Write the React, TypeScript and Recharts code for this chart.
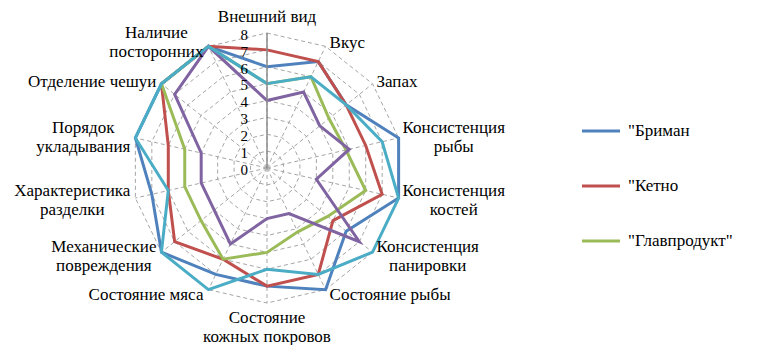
import React from 'react';
import { RadarChart, Radar, PolarGrid, PolarAngleAxis, PolarRadiusAxis, Legend } from 'recharts';

const categories = [
  'Внешний вид',
  'Вкус',
  'Запах',
  'Консистенция\nрыбы',
  'Консистенция\nкостей',
  'Консистенция\nпанировки',
  'Состояние рыбы',
  'Состояние\nкожных покровов',
  'Состояние мяса',
  'Механические\nповреждения',
  'Характеристика\nразделки',
  'Порядок\nукладывания',
  'Отделение чешуи',
  'Наличие\nпосторонних',
];

const series1Values = [6, 7, 6, 8, 8, 6, 8, 7, 7, 8, 7, 8, 8, 8];
const series2Values = [7, 7, 6, 6, 7, 5, 7, 7, 6, 7, 6, 6, 8, 8];
const series3Values = [5, 6, 4.7, 4.8, 6, 4.6, 4.2, 5, 6, 5, 5, 5, 8, 8];
const series4Values = [4, 5, 4, 5, 3, 7, 3, 3, 5, 4, 4, 4, 7, 8];
const series5Values = [5, 6, 6, 7, 8, 8, 7, 6, 8, 8, 6, 8, 8, 8];

const seriesNames = ['"Бриман', '"Кетно', '"Главпродукт"', 'Ряд4', 'Ряд5'];
const seriesColors = ['#4F81BD', '#C0504D', '#9BBB59', '#8064A2', '#4BACC6'];
const legendCount = 3;

const radiusTicks = [0, 1, 2, 3, 4, 5, 6, 7, 8];

const data = categories.map((c, i) => ({
  name: c,
  s1: series1Values[i],
  s2: series2Values[i],
  s3: series3Values[i],
  s4: series4Values[i],
  s5: series5Values[i],
}));

const W = 758;
const H = 337;
const CX = 259;
const CY = 160;
const R = 135;
const FONT = '"Liberation Serif", "Times New Roman", serif';
const LABEL_SIZE = 17;
const LINE_H = 19;

let measureCtx: CanvasRenderingContext2D | null = null;
function textWidth(s: string, font: string): number {
  if (!measureCtx) {
    const c = document.createElement('canvas');
    measureCtx = c.getContext('2d');
  }
  if (!measureCtx) return s.length * 8;
  measureCtx.font = font;
  return measureCtx.measureText(s).width;
}

function AngleTick(props: any) {
  const { payload } = props;
  const idx = categories.indexOf(payload.value);
  const ang = ((90 - (idx * 360) / categories.length) * Math.PI) / 180;
  const dx = Math.cos(ang);
  const dy = -Math.sin(ang);
  const ex = CX + R * dx;
  const ey = CY + R * dy;
  const lines = String(payload.value).split('\n');
  const n = lines.length;
  const w = Math.max(...lines.map((l) => textWidth(l, `${LABEL_SIZE}px "Liberation Serif"`)));
  let xc: number;
  let firstY: number;
  if (Math.abs(dx) < 0.05) {
    xc = ex;
    firstY = dy < 0 ? ey - 17 - (n - 1) * LINE_H : ey + 14;
  } else {
    xc = dx > 0 ? ex + 4 + w / 2 : ex - 5 - w / 2;
    const blockCenter = ey + 5 * dy;
    firstY = blockCenter - ((n - 1) * LINE_H) / 2;
  }
  return (
    <text textAnchor="middle" fontFamily={FONT} fontSize={LABEL_SIZE} fill="#000">
      {lines.map((l, i) => (
        <tspan key={i} x={xc} y={firstY + i * LINE_H} dy="0.35em">
          {l}
        </tspan>
      ))}
    </text>
  );
}

function RadiusTick(props: any) {
  const { x, y, payload } = props;
  return (
    <text x={x - 19} y={y + 1.5} dy="0.35em" textAnchor="end" fontFamily={FONT} fontSize={15} fill="#000">
      {payload.value}
    </text>
  );
}

function LegendBox() {
  return (
    <div style={{ fontFamily: FONT, fontSize: 17, color: '#000' }}>
      {seriesNames.slice(0, legendCount).map((name, i) => (
        <div key={name} style={{ height: 55, display: 'flex', alignItems: 'center' }}>
          <svg width={46} height={10} style={{ display: 'block' }}>
            <line x1={0} y1={5} x2={38} y2={5} stroke={seriesColors[i]} strokeWidth={3} />
          </svg>
          <span style={{ whiteSpace: 'nowrap' }}>{name}</span>
        </div>
      ))}
    </div>
  );
}

export default function App() {
  const keys = ['s1', 's2', 's3', 's4', 's5'];
  return (
    <div style={{ width: W, height: H }}>
      <RadarChart
        width={W}
        height={H}
        data={data}
        cx={CX}
        cy={CY}
        outerRadius={R}
        margin={{ top: 0, right: 0, bottom: 0, left: 0 }}
      >
        <PolarGrid gridType="polygon" stroke="#a6a6a6" strokeDasharray="4 3" />
        <PolarAngleAxis dataKey="name" tick={<AngleTick />} tickLine={false} axisLine={false} />
        <PolarRadiusAxis
          angle={90}
          domain={[0, 8]}
          ticks={radiusTicks}
          tickCount={9}
          tick={<RadiusTick />}
          tickLine={false}
          axisLine={{ stroke: '#8c8c8c', strokeWidth: 1.5 }}
          allowDataOverflow
        />
        <PolarRadiusAxis
          radiusAxisId="b"
          angle={-90}
          domain={[0, 8]}
          tick={false}
          tickLine={false}
          axisLine={{ stroke: '#8c8c8c', strokeWidth: 1.5 }}
        />
        {keys.map((k, i) => (
          <Radar
            key={k}
            name={seriesNames[i]}
            dataKey={k}
            stroke={seriesColors[i]}
            strokeWidth={3}
            fill="none"
            fillOpacity={0}
            dot={false}
            isAnimationActive={false}
          />
        ))}
        <Legend
          content={() => <LegendBox />}
          wrapperStyle={{ position: 'absolute', left: 574, top: 95, width: 184 }}
        />
      </RadarChart>
    </div>
  );
}
